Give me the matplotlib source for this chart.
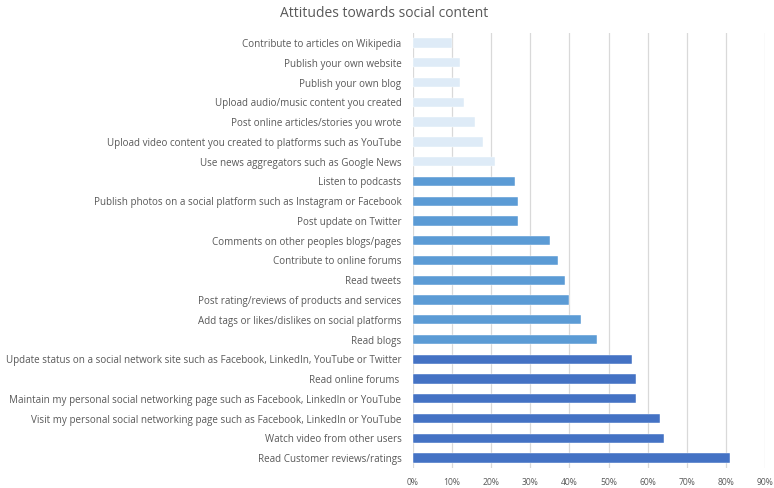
import matplotlib
matplotlib.use("Agg")
import matplotlib.pyplot as plt
from matplotlib.ticker import FuncFormatter, MultipleLocator

categories = [
    "Contribute to articles on Wikipedia",
    "Publish your own website",
    "Publish your own blog",
    "Upload audio/music content you created",
    "Post online articles/stories you wrote",
    "Upload video content you created to platforms such as YouTube",
    "Use news aggregators such as Google News",
    "Listen to podcasts",
    "Publish photos on a social platform such as Instagram or Facebook",
    "Post update on Twitter",
    "Comments on other peoples blogs/pages",
    "Contribute to online forums",
    "Read tweets",
    "Post rating/reviews of products and services",
    "Add tags or likes/dislikes on social platforms",
    "Read blogs",
    "Update status on a social network site such as Facebook, LinkedIn, YouTube or Twitter",
    "Read online forums ",
    "Maintain my personal social networking page such as Facebook, LinkedIn or YouTube",
    "Visit my personal social networking page such as Facebook, LinkedIn or YouTube",
    "Watch video from other users",
    "Read Customer reviews/ratings",
]
values = [10, 12, 12, 13, 16, 18, 21, 26, 27, 27, 35, 37, 39, 40, 43, 47,
          56, 57, 57, 63, 64, 81]
groups = ["low"] * 7 + ["mid"] * 9 + ["high"] * 6

group_colors = {"low": "#DEEBF7", "mid": "#5B9BD5", "high": "#4472C4"}
text_color = "#595959"

plt.rcParams["font.family"] = ["Open Sans", "DejaVu Sans"]

fig = plt.figure(figsize=(7.74, 4.88), dpi=100)
ax = fig.add_axes([0.533, 0.041, 0.456, 0.891])

n = len(categories)
ypos = list(range(n))
ax.barh(ypos, values, height=0.47,
        color=[group_colors[g] for g in groups],
        edgecolor="white", linewidth=0.3, zorder=3)

ax.set_ylim(n - 0.5, -0.5)
ax.set_xlim(0, 90)
ax.set_yticks(ypos)
ax.set_yticklabels(categories, fontsize=7.1, color=text_color)
ax.xaxis.set_major_locator(MultipleLocator(10))
ax.xaxis.set_major_formatter(FuncFormatter(lambda v, p: f"{int(round(v))}%"))
ax.tick_params(axis="x", labelsize=6.2, colors=text_color, length=0, pad=7)
ax.tick_params(axis="y", length=0, pad=8)

ax.grid(axis="x", color="#D9D9D9", linewidth=0.9, zorder=0)
for s in ax.spines.values():
    s.set_visible(False)

fig.text(0.496, 0.972, "Attitudes towards social content",
         ha="center", va="center", fontsize=10, color=text_color)

fig.savefig("out.png", dpi=100)
